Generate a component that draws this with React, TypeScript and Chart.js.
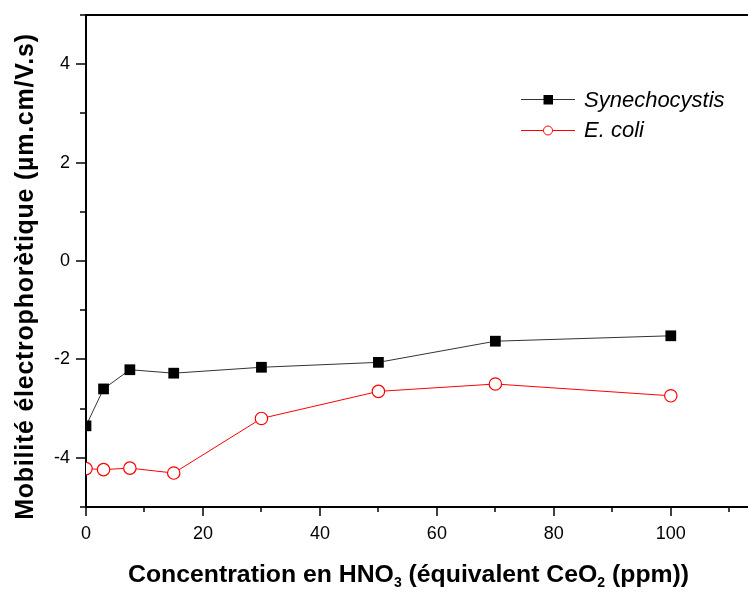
import { useEffect, useRef } from 'react';
import { Chart, registerables } from 'chart.js';

Chart.register(...registerables);

const concentrations = [0, 3, 7.5, 15, 30, 50, 70, 100];
const synechocystis = [-3.35, -2.6, -2.21, -2.28, -2.16, -2.06, -1.63, -1.52];
const eColi = [-4.22, -4.24, -4.21, -4.31, -3.2, -2.65, -2.5, -2.74];
const seriesNames = ['Synechocystis', 'E. coli'];
const yTitle = 'Mobilité électrophorètique (µm.cm/V.s)';
const xTitleParts = [
  { text: 'Concentration en HNO', sub: false },
  { text: '3', sub: true },
  { text: ' (équivalent CeO', sub: false },
  { text: '2', sub: true },
  { text: ' (ppm))', sub: false },
];

const FONT = '"Liberation Sans", Arial, Helvetica, sans-serif';
const BLACK_LINE = '#333333';
const RED = '#ff0000';

const overlayPlugin = {
  id: 'overlay',
  afterDraw(chart: any) {
    const { ctx, chartArea: ca, scales } = chart;
    const x = scales.x;
    const y = scales.y;
    ctx.save();
    ctx.strokeStyle = '#000';
    // top frame line
    ctx.lineWidth = 2;
    ctx.beginPath();
    ctx.moveTo(ca.left - 1, ca.top);
    ctx.lineTo(ca.right, ca.top);
    ctx.stroke();
    // ticks
    ctx.lineWidth = 1.5;
    for (const t of y.ticks) {
      const py = Math.round(y.getPixelForValue(t.value));
      const major = Math.abs(t.value % 2) < 1e-9;
      const len = major ? 10 : 6;
      ctx.beginPath();
      ctx.moveTo(ca.left - len, py);
      ctx.lineTo(ca.left, py);
      ctx.stroke();
    }
    for (const t of x.ticks) {
      const px = Math.round(x.getPixelForValue(t.value));
      const major = Math.abs(t.value % 20) < 1e-9;
      const len = major ? 9 : 5;
      ctx.beginPath();
      ctx.moveTo(px, ca.bottom);
      ctx.lineTo(px, ca.bottom + len);
      ctx.stroke();
    }

    // legend
    const legendRows = [
      { name: seriesNames[0], color: BLACK_LINE, marker: 'rect', cy: 99, base: 107 },
      { name: seriesNames[1], color: RED, marker: 'circle', cy: 130, base: 137 },
    ];
    for (const r of legendRows) {
      ctx.strokeStyle = r.color;
      ctx.lineWidth = 1;
      ctx.beginPath();
      ctx.moveTo(521, r.cy + 0.5);
      ctx.lineTo(575, r.cy + 0.5);
      ctx.stroke();
      if (r.marker === 'rect') {
        ctx.fillStyle = '#000';
        ctx.fillRect(543.5, r.cy - 4, 9.5, 9.5);
      } else {
        ctx.fillStyle = '#fff';
        ctx.strokeStyle = RED;
        ctx.beginPath();
        ctx.arc(548, r.cy + 0.5, 4.5, 0, Math.PI * 2);
        ctx.fill();
        ctx.stroke();
      }
      ctx.fillStyle = '#000';
      ctx.font = `italic 22px ${FONT}`;
      ctx.textAlign = 'left';
      ctx.textBaseline = 'alphabetic';
      ctx.fillText(r.name, 584, r.base);
    }

    // y title
    ctx.save();
    ctx.translate(33, 276.5);
    ctx.rotate(-Math.PI / 2);
    ctx.font = `bold 25px ${FONT}`;
    (ctx as any).letterSpacing = '0.75px';
    ctx.textAlign = 'center';
    ctx.textBaseline = 'alphabetic';
    ctx.fillStyle = '#000';
    ctx.fillText(yTitle, 0, 0);
    ctx.restore();

    // x title with subscripts
    let cx = 128;
    ctx.textAlign = 'left';
    ctx.textBaseline = 'alphabetic';
    ctx.fillStyle = '#000';
    for (const p of xTitleParts) {
      ctx.font = p.sub ? `bold 14px ${FONT}` : `bold 24.8px ${FONT}`;
      const w = ctx.measureText(p.text).width;
      ctx.fillText(p.text, cx, p.sub ? 587 : 582);
      cx += w;
    }
    ctx.restore();
  },
};

export default function App() {
  const ref = useRef<HTMLCanvasElement | null>(null);
  useEffect(() => {
    const canvas = ref.current;
    if (!canvas) return;
    const chart = new Chart(canvas, {
      type: 'line',
      data: {
        datasets: [
          {
            label: seriesNames[0],
            data: concentrations.map((c, i) => ({ x: c, y: synechocystis[i] })),
            borderColor: BLACK_LINE,
            borderWidth: 1,
            pointStyle: 'rect',
            pointRadius: 7.6,
            pointBackgroundColor: '#000',
            pointBorderColor: '#000',
            pointBorderWidth: 0,
            tension: 0,
            clip: 0,
          } as any,
          {
            label: seriesNames[1],
            data: concentrations.map((c, i) => ({ x: c, y: eColi[i] })),
            borderColor: RED,
            borderWidth: 1,
            pointStyle: 'circle',
            pointRadius: 6.2,
            pointBackgroundColor: '#fff',
            pointBorderColor: RED,
            pointBorderWidth: 1.2,
            tension: 0,
            clip: 0,
          } as any,
        ],
      },
      options: {
        animation: false,
        responsive: false,
        devicePixelRatio: 1,
        layout: { autoPadding: false, padding: { top: 15, right: 0, left: 0, bottom: 0 } },
        plugins: { legend: { display: false }, tooltip: { enabled: false } },
        scales: {
          x: {
            type: 'linear',
            min: 0,
            max: 113.2,
            afterFit: (s: any) => {
              s.height = 85;
              s.paddingLeft = 0;
              s.paddingRight = 0;
              s.paddingTop = 0;
              s.paddingBottom = 0;
            },
            grid: { display: false, drawOnChartArea: false, drawTicks: false },
            border: { display: true, color: '#000', width: 2 },
            ticks: {
              stepSize: 10,
              includeBounds: false,
              autoSkip: false,
              maxRotation: 0,
              padding: 16,
              color: '#000',
              font: { family: FONT, size: 18 },
              callback: (v: any) => (v % 20 === 0 && v <= 100 ? String(v) : ''),
            },
          },
          y: {
            type: 'linear',
            min: -5,
            max: 5,
            afterFit: (s: any) => {
              s.width = 86;
              s.paddingLeft = 0;
              s.paddingRight = 0;
              s.paddingTop = 0;
              s.paddingBottom = 0;
            },
            grid: { display: false, drawOnChartArea: false, drawTicks: false },
            border: { display: true, color: '#000', width: 2 },
            ticks: {
              stepSize: 1,
              autoSkip: false,
              padding: 16,
              color: '#000',
              font: { family: FONT, size: 18 },
              callback: (v: any) => (v % 2 === 0 ? String(v) : ''),
            },
          },
        },
      },
      plugins: [overlayPlugin],
    } as any);
    return () => chart.destroy();
  }, []);
  return (
    <div style={{ position: 'absolute', left: 0, top: 0, width: 748, height: 592, background: '#fff' }}>
      <canvas ref={ref} width={748} height={592} style={{ width: 748, height: 592, display: 'block' }} />
    </div>
  );
}
